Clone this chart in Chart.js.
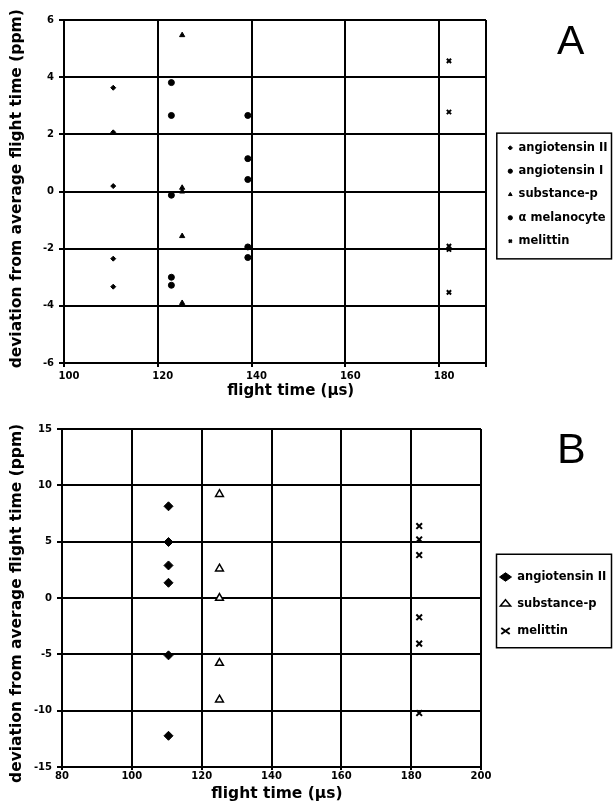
<!DOCTYPE html>
<html>
<head>
<meta charset="utf-8">
<script src="https://cdn.jsdelivr.net/npm/chart.js@4.4.1/dist/chart.umd.min.js"></script>
<style>
  body { margin: 0; background: #fff; width: 613px; height: 805px; position: relative; overflow: hidden; }
  .panel { position: absolute; left: 0; }
  .tag { position: absolute; font-family: "Liberation Sans", Arial, sans-serif; line-height: 1; color: #000; }
</style>
</head>
<body>
<div class="panel" style="top:0"><canvas id="chartA" width="613" height="400"></canvas></div>
<div class="panel" style="top:400px"><canvas id="chartB" width="613" height="405"></canvas></div>
<div class="tag" style="left:557px;top:20px;font-size:41px">A</div>
<div class="tag" style="left:557px;top:427px;font-size:43px">B</div>

<script>
// Panel A: deviation (ppm) of each repeat, five peptides
const flightTimesA = [110.5, 122.9, 125.2, 139.2, 182.1];
const angIIA = [3.63, 2.07, 0.19, -2.35, -3.33];
const angIA = [3.81, 2.66, -0.13, -3.0, -3.28];
const subPA = [5.47, 0.13, 0.0, -1.56, -3.9];
const melanoA = [2.66, 1.15, 0.42, -1.94, -2.31];
const melittinA = [4.57, 2.78, -1.91, -2.03, -3.53];
const xTicksA = [100, 120, 140, 160, 180, 190];
const yTicksA = [-6, -4, -2, 0, 2, 4, 6];

// Panel B: three peptides
const flightTimesB = [110.5, 125.1, 182.3];
const angIIB = [8.14, 4.97, 2.89, 1.35, -5.09, -12.23];
const subPB = [9.21, 2.6, 0.0, -5.77, -9.03];
const melittinB = [6.39, 5.2, 3.81, -1.71, -4.05, -10.21];
const xTicksB = [80, 100, 120, 140, 160, 180, 200];
const yTicksB = [-15, -10, -5, 0, 5, 10, 15];

const FONT = "DejaVu Sans";
const YTITLE = "deviation from average flight time (ppm)";
const XTITLE = "flight time (\u03bcs)";

function points(x, ys) {
  return ys.map(y => ({ x: x, y: y }));
}

function series(label, x, ys, style, radius, fill, width) {
  return {
    label: label,
    data: points(x, ys),
    pointStyle: style,
    pointRadius: radius,
    pointHoverRadius: radius,
    backgroundColor: fill,
    borderColor: "#000",
    borderWidth: width,
  };
}

// thin frame around the legend items
const legendFrame = {
  id: "legendFrame",
  afterDraw(chart, args, opts) {
    const boxes = chart.legend.legendHitBoxes;
    if (!boxes || !boxes.length) return;
    const ctx = chart.ctx;
    const top = Math.min(...boxes.map(b => b.top)) - opts.padTop;
    const bottom = Math.max(...boxes.map(b => b.top + b.height)) + opts.padBottom;
    const left = boxes[0].left - opts.padX;
    const right = chart.width - 1.5;
    ctx.save();
    ctx.strokeStyle = "#000";
    ctx.lineWidth = 1.5;
    ctx.strokeRect(left, top, right - left, bottom - top);
    ctx.restore();
  },
};

function makePanel(id, o) {
  new Chart(document.getElementById(id), {
    type: "scatter",
    data: { datasets: o.datasets },
    options: {
      responsive: false,
      animation: false,
      layout: { padding: o.padding },
      plugins: {
        tooltip: { enabled: false },
        legend: {
          position: "right",
          fullSize: false,
          maxWidth: o.legendWidth,
          // empty title only nudges the items down a little
          title: { display: true, text: "", font: { size: 1 }, padding: { top: o.legendNudge, bottom: 0 } },
          labels: {
            usePointStyle: true,
            boxWidth: o.boxWidth,
            boxHeight: o.boxHeight,
            pointStyleWidth: o.pointStyleWidth,
            padding: o.legendGap,
            color: "#000",
            font: { family: FONT, size: 11.5, weight: "bold" },
          },
        },
        legendFrame: o.frame,
      },
      scales: {
        x: {
          type: "linear",
          min: o.xTicks[0],
          max: o.xTicks[o.xTicks.length - 1],
          afterBuildTicks: s => { s.ticks = o.xTicks.map(v => ({ value: v })); },
          afterFit: s => { s.height = o.xHeight; },
          grid: { color: "#000", lineWidth: 2, tickLength: o.xTickLen },
          border: { color: "#000", width: 2 },
          ticks: {
            color: "#000",
            autoSkip: false,
            maxRotation: 0,
            padding: o.xPad,
            labelOffset: o.xLabelShift,
            font: { family: FONT, size: 10, weight: "bold" },
            callback: v => (o.hideX.includes(v) ? "" : v),
          },
          title: {
            display: true,
            text: o.xTitle,
            color: "#000",
            padding: { top: 0, bottom: o.xTitlePad },
            font: { family: FONT, size: o.xTitleSize, weight: "bold" },
          },
        },
        y: {
          min: o.yTicks[0],
          max: o.yTicks[o.yTicks.length - 1],
          afterBuildTicks: s => { s.ticks = o.yTicks.map(v => ({ value: v })); },
          afterFit: s => { s.width = o.yWidth; },
          grid: { color: "#000", lineWidth: 2, tickLength: 5 },
          border: { color: "#000", width: 2 },
          ticks: {
            color: "#000",
            padding: 5,
            font: { family: FONT, size: 10, weight: "bold" },
          },
          title: {
            display: true,
            text: o.yTitle,
            color: "#000",
            padding: { top: o.yTitlePad, bottom: 0 },
            font: { family: FONT, size: 15.5, weight: "bold" },
          },
        },
        // empty strip between the plot and the legend
        gap: {
          type: "linear",
          position: "right",
          grid: { display: false },
          border: { display: false },
          ticks: { display: false },
          afterFit: s => { s.width = o.gap; },
        },
      },
    },
    plugins: [legendFrame],
  });
}

makePanel("chartA", {
  datasets: [
    series("angiotensin II", flightTimesA[0], angIIA, "rectRot", 2.5, "#000", 1),
    series("angiotensin I", flightTimesA[1], angIA, "circle", 3, "#000", 1),
    series("substance-p", flightTimesA[2], subPA, "triangle", 3, "#000", 1),
    series("\u03b1 melanocyte", flightTimesA[3], melanoA, "circle", 3, "#000", 1),
    series("melittin", flightTimesA[4], melittinA, "crossRot", 3, "#000", 2),
  ],
  xTicks: xTicksA, yTicks: yTicksA, hideX: [190],
  padding: { top: 20, right: 0, bottom: 0, left: 0 },
  xHeight: 37, yWidth: 64, gap: 10, legendWidth: 117,
  xTickLen: 4, xPad: 3, xLabelShift: 5, xTitleSize: 15, xTitlePad: 0,
  xTitle: "      " + XTITLE, yTitle: " " + YTITLE, yTitlePad: 7.7,
  boxWidth: 5, boxHeight: 3, pointStyleWidth: undefined, legendGap: 11.8, legendNudge: 4.8,
  frame: { padX: 11, padTop: 9, padBottom: 12 },
});

makePanel("chartB", {
  datasets: [
    series("angiotensin II", flightTimesB[0], angIIB, "rectRot", 4.5, "#000", 1),
    series("substance-p", flightTimesB[1], subPB, "triangle", 4.5, "#fff", 1.5),
    series("melittin", flightTimesB[2], melittinB, "crossRot", 4, "#000", 2),
  ],
  xTicks: xTicksB, yTicks: yTicksB, hideX: [],
  padding: { top: 29, right: 0, bottom: 0, left: 0 },
  xHeight: 38, yWidth: 62, gap: 3, legendWidth: 129,
  xTickLen: 3, xPad: 0, xLabelShift: 0, xTitleSize: 15.5, xTitlePad: 2,
  xTitle: "  " + XTITLE, yTitle: YTITLE + "  ", yTitlePad: 7.4,
  boxWidth: 12, boxHeight: 6, pointStyleWidth: 12, legendGap: 15.5, legendNudge: 10.8,
  frame: { padX: 3, padTop: 17, padBottom: 11 },
});
</script>
</body>
</html>
